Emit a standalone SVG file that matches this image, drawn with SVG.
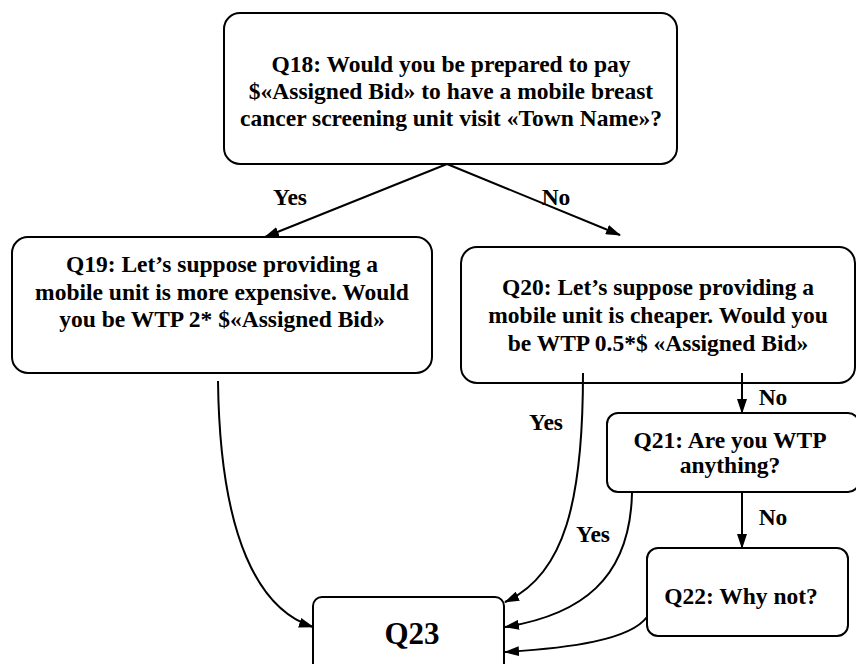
<svg xmlns="http://www.w3.org/2000/svg" width="856" height="664" viewBox="0 0 856 664">
<style>
.box{fill:#fff;stroke:#000;stroke-width:2}
.t{font-family:"Liberation Serif","Times New Roman",serif;font-weight:bold;font-size:23.5px;fill:#000;text-anchor:middle}
.big{font-size:31px}
.c{fill:none;stroke:#000;stroke-width:2}
</style>
<defs>
<marker id="ah" markerWidth="15" markerHeight="10" refX="14" refY="5" orient="auto" markerUnits="userSpaceOnUse">
<path d="M0,0 L15,5 L0,10 Z" fill="#000"/>
</marker>
</defs>
<rect width="856" height="664" fill="#fff"/>
<g id="Q18">
<rect class="box" x="224" y="13" width="453" height="151" rx="16"/>
<text class="t" x="451" y="72">Q18: Would you be prepared to pay</text>
<text class="t" x="451" y="99">$«Assigned Bid» to have a mobile breast</text>
<text class="t" x="451" y="126">cancer screening unit visit «Town Name»?</text>
</g>
<g id="Q19">
<rect class="box" x="12" y="237" width="420" height="136" rx="16"/>
<text class="t" x="222" y="272">Q19: Let’s suppose providing a</text>
<text class="t" x="222" y="299.5">mobile unit is more expensive. Would</text>
<text class="t" x="222" y="327">you be WTP 2* $«Assigned Bid»</text>
</g>
<g id="Q20">
<rect class="box" x="461" y="247" width="394" height="136" rx="16"/>
<text class="t" x="658" y="295">Q20: Let’s suppose providing a</text>
<text class="t" x="658" y="323">mobile unit is cheaper. Would you</text>
<text class="t" x="658" y="351">be WTP 0.5*$ «Assigned Bid»</text>
</g>
<g id="Q21">
<rect class="box" x="607" y="413" width="252" height="79" rx="11"/>
<text class="t" x="730" y="448">Q21: Are you WTP</text>
<text class="t" x="730" y="473">anything?</text>
</g>
<g id="Q22">
<rect class="box" x="647" y="548" width="201" height="88" rx="11"/>
<text class="t" x="741" y="604">Q22: Why not?</text>
</g>
<g id="Q23">
<rect class="box" x="313" y="597" width="191" height="90" rx="9"/>
<text class="t big" x="412" y="644">Q23</text>
</g>
<g id="connectors">
<line class="c" x1="447" y1="164" x2="265" y2="237" marker-end="url(#ah)"/>
<line class="c" x1="447" y1="164" x2="620" y2="235" marker-end="url(#ah)"/>
<path class="c" d="M218,381 C220,540 260,610 313,627" marker-end="url(#ah)"/>
<path class="c" d="M583,373 C583,500 565,575 505,602" marker-end="url(#ah)"/>
<line class="c" x1="742" y1="373" x2="742" y2="413" marker-end="url(#ah)"/>
<line class="c" x1="742" y1="492" x2="742" y2="548" marker-end="url(#ah)"/>
<path class="c" d="M632,493 C630,580 580,615 505,627" marker-end="url(#ah)"/>
<path class="c" d="M647,617 C630,640 570,648 505,652" marker-end="url(#ah)"/>
<text class="t" x="290" y="205">Yes</text>
<text class="t" x="556" y="205">No</text>
<text class="t" x="546" y="430">Yes</text>
<text class="t" x="773" y="405">No</text>
<text class="t" x="593" y="542">Yes</text>
<text class="t" x="773" y="525">No</text>
</g>
</svg>
